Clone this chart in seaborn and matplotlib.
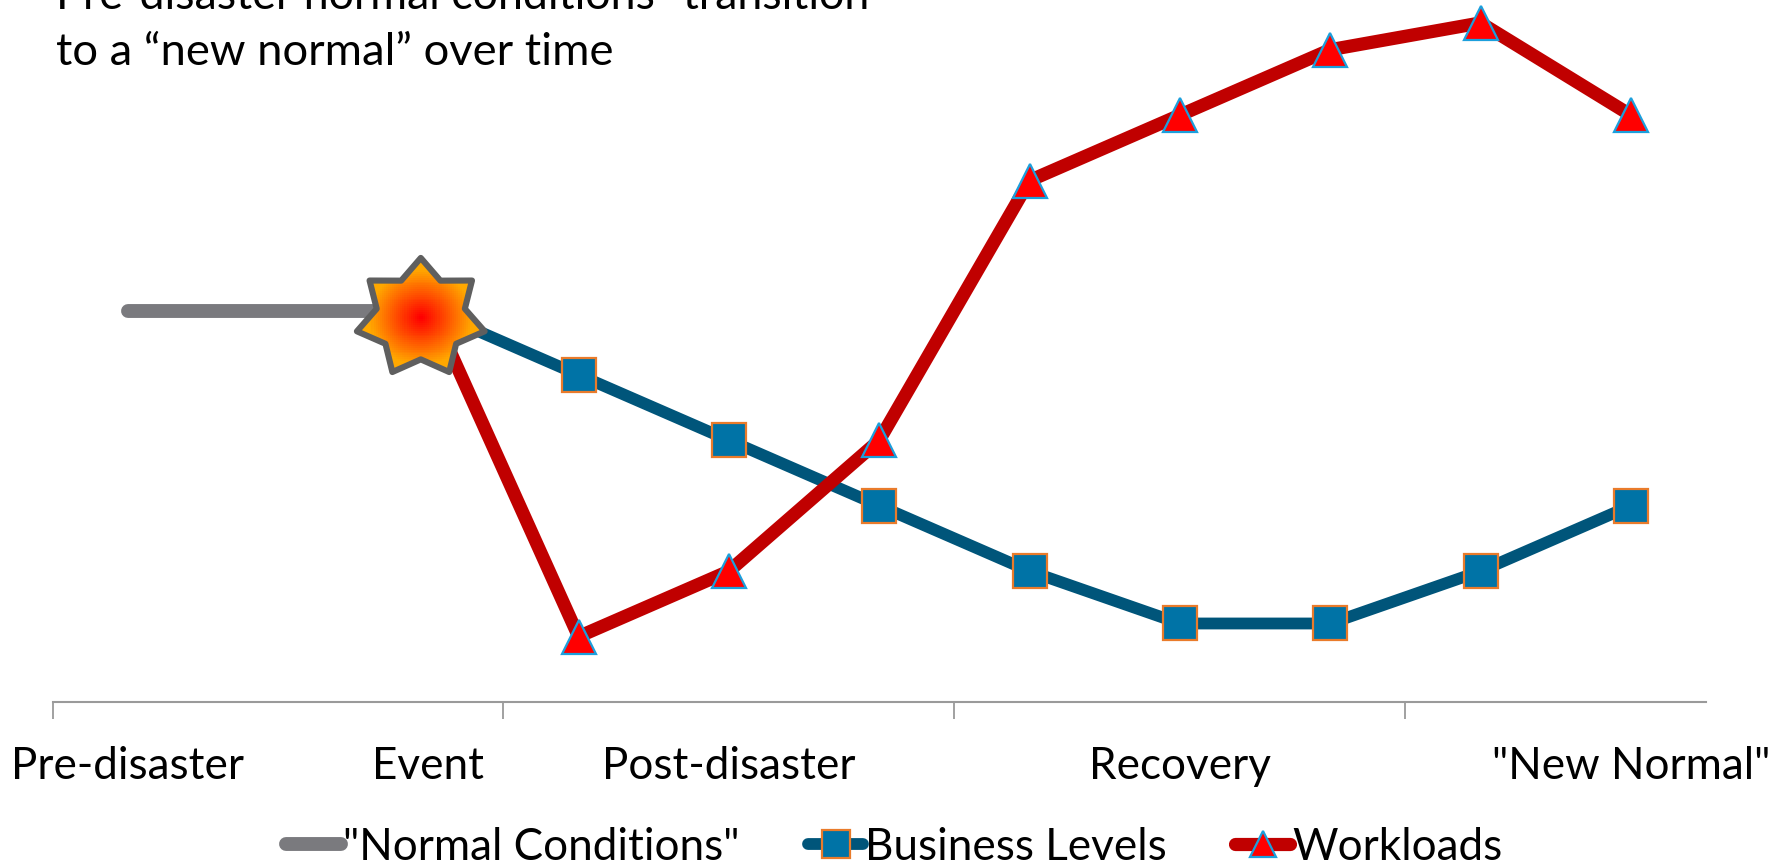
import numpy as np
import pandas as pd
import matplotlib
matplotlib.use("Agg")
import matplotlib.pyplot as plt
import seaborn as sns
from matplotlib.colors import LinearSegmentedColormap
from matplotlib.patches import PathPatch
from matplotlib.path import Path
from matplotlib.transforms import Affine2D

# Timeline categories and the three series, on an arbitrary activity scale
phase_positions = [0, 2, 4, 7, 10]
phase_labels = ["Pre-disaster", "Event", "Post-disaster", "Recovery", '"New Normal"']
phase_boundaries = [-0.5, 2.5, 5.5, 8.5]

normal_x = [0, 1, 2]
normal_y = [5.98, 5.98, 5.98]
response_x = [2, 3, 4, 5, 6, 7, 8, 9, 10]
business_y = [6, 5, 4, 3, 2, 1.2, 1.2, 2, 3]
workload_y = [6.1, 1.0, 2, 4, 7.97, 8.97, 9.97, 10.38, 8.97]

event_center = (1.95, 5.87)

sns.set_theme(style="white")
plt.rcParams["font.family"] = ["Lato", "DejaVu Sans"]

W, H = 1789, 864
fig = plt.figure(figsize=(W / 100, H / 100), dpi=100, facecolor="white")
ax = fig.add_axes([52.5 / W, (H - 702) / H, (1706 - 52.5) / W, 702 / H])
ax.set_facecolor("none")

sns.lineplot(x=normal_x, y=normal_y, ax=ax, color="#7A7A7E", linewidth=10,
             solid_capstyle="round", errorbar=None, label='"Normal Conditions"')
sns.lineplot(x=response_x, y=business_y, ax=ax, color="#00557A", linewidth=8.5,
             solid_capstyle="round", marker="s", markersize=25,
             markerfacecolor="#0073A6", markeredgecolor="#E97B2B",
             markeredgewidth=1.6, errorbar=None, label="Business Levels")
sns.lineplot(x=response_x, y=workload_y, ax=ax, color="#C00000", linewidth=9.5,
             solid_capstyle="round", marker="^", markersize=24,
             markerfacecolor="#FF0000", markeredgecolor="#1C9FDC",
             markeredgewidth=1.6, errorbar=None, label="Workloads")

ax.set_xlim(-0.5, 10.5)
ax.set_ylim(0, 10.73)

# Event burst: a seven-point star with a radial red-to-orange fill
rx, ry = 65.5 / 150.3, 60 / 65.4
star_tf = Affine2D().scale(rx, ry).translate(*event_center) + ax.transData
star_edge = PathPatch(Path.unit_regular_star(7, innerCircle=0.69), transform=star_tf,
                      facecolor="none", edgecolor="#5F5F5F", linewidth=4.4,
                      joinstyle="round", zorder=12)
ax.add_patch(star_edge)
gx, gy = np.meshgrid(np.linspace(-1, 1, 64), np.linspace(-1, 1, 64))
burst_cmap = LinearSegmentedColormap.from_list("burst", ["#FF0000", "#FFA800"])
burst = ax.imshow(np.clip(np.hypot(gx, gy) / 0.8, 0, 1), cmap=burst_cmap, aspect="auto",
                  extent=(event_center[0] - rx, event_center[0] + rx,
                          event_center[1] - ry, event_center[1] + ry),
                  origin="lower", interpolation="nearest", zorder=11)
burst.set_clip_path(star_edge.get_path(), star_tf)
ax.set_xlim(-0.5, 10.5)
ax.set_ylim(0, 10.73)

# Axis: phase boundaries as ticks, phase names centred between them
for side in ("top", "left", "right"):
    ax.spines[side].set_visible(False)
ax.spines["bottom"].set_color("#9A9A9A")
ax.spines["bottom"].set_linewidth(1.5)
ax.set_yticks([])
ax.set_xlabel("")
ax.set_ylabel("")
ax.set_xticks(phase_boundaries)
ax.set_xticklabels([])
ax.tick_params(axis="x", which="major", length=12, width=1.3, color="#9A9A9A", bottom=True)
ax.set_xticks(phase_positions, minor=True)
ax.set_xticklabels(phase_labels, minor=True, fontsize=31.7, color="black")
ax.tick_params(axis="x", which="minor", length=0, pad=32, bottom=True)

handles, labels = ax.get_legend_handles_labels()
ax.legend(handles, labels, loc="center", bbox_to_anchor=(0.5, 1 - 847 / H),
          bbox_transform=fig.transFigure, frameon=False, ncol=3, fontsize=31.7,
          handlelength=1.25, handletextpad=0.05, columnspacing=1.55, borderpad=0,
          markerscale=0.8, labelcolor="black")

fig.text(56 / W, 1 - 65 / H, "to a \u201cnew normal\u201d over time",
         fontsize=32.7, color="black", ha="left", va="baseline")
fig.text(56 / W, 1 - 9 / H, "Pre-disaster normal conditions\u201d transition",
         fontsize=32.2, color="black", ha="left", va="baseline")

fig.savefig("out.png", dpi=100, facecolor="white")
